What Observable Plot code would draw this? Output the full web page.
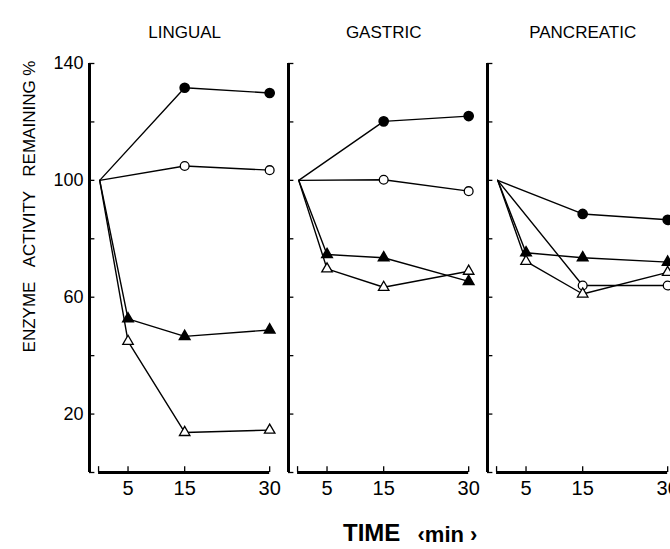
<!DOCTYPE html>
<html><head><meta charset="utf-8">
<script src="https://cdn.jsdelivr.net/npm/d3@7"></script>
<script src="https://cdn.jsdelivr.net/npm/@observablehq/plot@0.6"></script>
<style>body{margin:0;background:#fff}</style>
</head><body><div id="chart"></div>
<script>
const panels = ["LINGUAL", "GASTRIC", "PANCREATIC"];
const timesCircle = [0, 15, 30];
const timesTriangle = [0, 5, 15, 30];
const xTickLabels = [5, 15, 30];
const yTickLabels = [20, 60, 100, 140];
const yTickMarks = [0, 20, 40, 60, 80, 100, 120, 140];

const lingualFilledCircle = [100, 131.7, 129.9];
const lingualOpenCircle = [100, 104.9, 103.5];
const lingualFilledTriangle = [100, 52.6, 46.6, 48.8];
const lingualOpenTriangle = [100, 44.9, 13.7, 14.5];

const gastricFilledCircle = [100, 120.2, 122.0];
const gastricOpenCircle = [100, 100.2, 96.3];
const gastricFilledTriangle = [100, 74.6, 73.5, 65.4];
const gastricOpenTriangle = [100, 69.7, 63.4, 68.9];

const pancreaticFilledCircle = [100, 88.5, 86.5];
const pancreaticOpenCircle = [100, 64.0, 64.0];
const pancreaticFilledTriangle = [100, 75.2, 73.5, 72.0];
const pancreaticOpenTriangle = [100, 72.3, 61.1, 68.5];

const seriesTable = [
  ["LINGUAL", "filledCircle", timesCircle, lingualFilledCircle],
  ["LINGUAL", "openCircle", timesCircle, lingualOpenCircle],
  ["LINGUAL", "filledTriangle", timesTriangle, lingualFilledTriangle],
  ["LINGUAL", "openTriangle", timesTriangle, lingualOpenTriangle],
  ["GASTRIC", "filledCircle", timesCircle, gastricFilledCircle],
  ["GASTRIC", "openCircle", timesCircle, gastricOpenCircle],
  ["GASTRIC", "filledTriangle", timesTriangle, gastricFilledTriangle],
  ["GASTRIC", "openTriangle", timesTriangle, gastricOpenTriangle],
  ["PANCREATIC", "filledCircle", timesCircle, pancreaticFilledCircle],
  ["PANCREATIC", "openCircle", timesCircle, pancreaticOpenCircle],
  ["PANCREATIC", "filledTriangle", timesTriangle, pancreaticFilledTriangle],
  ["PANCREATIC", "openTriangle", timesTriangle, pancreaticOpenTriangle]
];
const rows = seriesTable.flatMap(([panel, kind, times, values]) =>
  times.map((time, i) => ({panel, kind, key: panel + kind, time, value: values[i]})));

const xDomain = [-1.8, 30.5];
const font = "Liberation Sans, Arial, Helvetica, sans-serif";
const pts = (kind) => rows.filter(d => d.kind === kind && d.time > 0);

const chart = Plot.plot({
  width: 670, height: 549,
  marginLeft: 88, marginRight: 0, marginTop: 63, marginBottom: 77,
  style: {fontFamily: font, fontSize: "17px", color: "black", background: "white"},
  fx: {domain: panels, paddingInner: 16.5 / 199.5, paddingOuter: 0, axis: null, label: null},
  x: {domain: xDomain, axis: null},
  y: {domain: [0, 140], axis: null},
  marks: [
    Plot.ruleX([xDomain[0]], {y1: 0, y2: 140, stroke: "black", strokeWidth: 3}),
    Plot.ruleY(yTickMarks, {y: d => d, x1: xDomain[0], x2: xDomain[0] + 0.95, stroke: "black", strokeWidth: 1.3}),
    Plot.text(yTickLabels, {fx: () => panels[0], y: d => d, text: d => String(d), frameAnchor: "left", textAnchor: "end", dx: -6, fontSize: 18, fill: "black"}),
    Plot.text(["ENZYME\u00a0\u00a0\u00a0ACTIVITY\u00a0\u00a0\u00a0REMAINING %"], {fx: () => panels[0], frameAnchor: "top-left", text: d => d, rotate: -90, textAnchor: "end", dx: -66.5, dy: -3, fontSize: 17, fill: "black"}),
    Plot.ruleY([0], {x1: -0.2, x2: 30, stroke: "black", strokeWidth: 3}),
    Plot.ruleX([-0.2, ...xTickLabels], {x: d => d, y1: 0, y2: 2, stroke: "black", strokeWidth: 1.3}),
    Plot.text(xTickLabels, {x: d => d, text: d => String(d), frameAnchor: "bottom", dy: 22, fontFamily: "Liberation Sans Narrow, Arial Narrow, " + font, fontSize: 20, fill: "black"}),
    Plot.text(panels, {fx: d => d, x: () => 15, text: d => d, frameAnchor: "top", dy: -38, fontSize: 17, fill: "black"}),
    Plot.text(["TIME"], {fx: () => panels[1], frameAnchor: "bottom-left", text: d => d, textAnchor: "start", dx: 54.5, dy: 68, fontSize: 24, fontWeight: "bold", fill: "black"}),
    Plot.text(["\u2039min\u00a0\u203a"], {fx: () => panels[1], frameAnchor: "bottom-left", text: d => d, textAnchor: "start", dx: 129, dy: 69, fontSize: 22, fontWeight: "bold", fill: "black"}),
    Plot.line(rows, {fx: "panel", x: "time", y: "value", z: "key", stroke: "black", strokeWidth: 1.4}),
    Plot.dot(pts("filledCircle"), {fx: "panel", x: "time", y: "value", r: 4.6, symbol: "circle", fill: "black", stroke: "black"}),
    Plot.dot(pts("openCircle"), {fx: "panel", x: "time", y: "value", r: 4.4, symbol: "circle", fill: "white", stroke: "black", strokeWidth: 1.3}),
    Plot.dot(pts("filledTriangle"), {fx: "panel", x: "time", y: "value", r: 3.9, symbol: "triangle", fill: "black", stroke: "black"}),
    Plot.dot(pts("openTriangle"), {fx: "panel", x: "time", y: "value", r: 3.9, symbol: "triangle", fill: "white", stroke: "black", strokeWidth: 1.3})
  ]
});
document.getElementById("chart").appendChild(chart);
</script>
</body></html>
